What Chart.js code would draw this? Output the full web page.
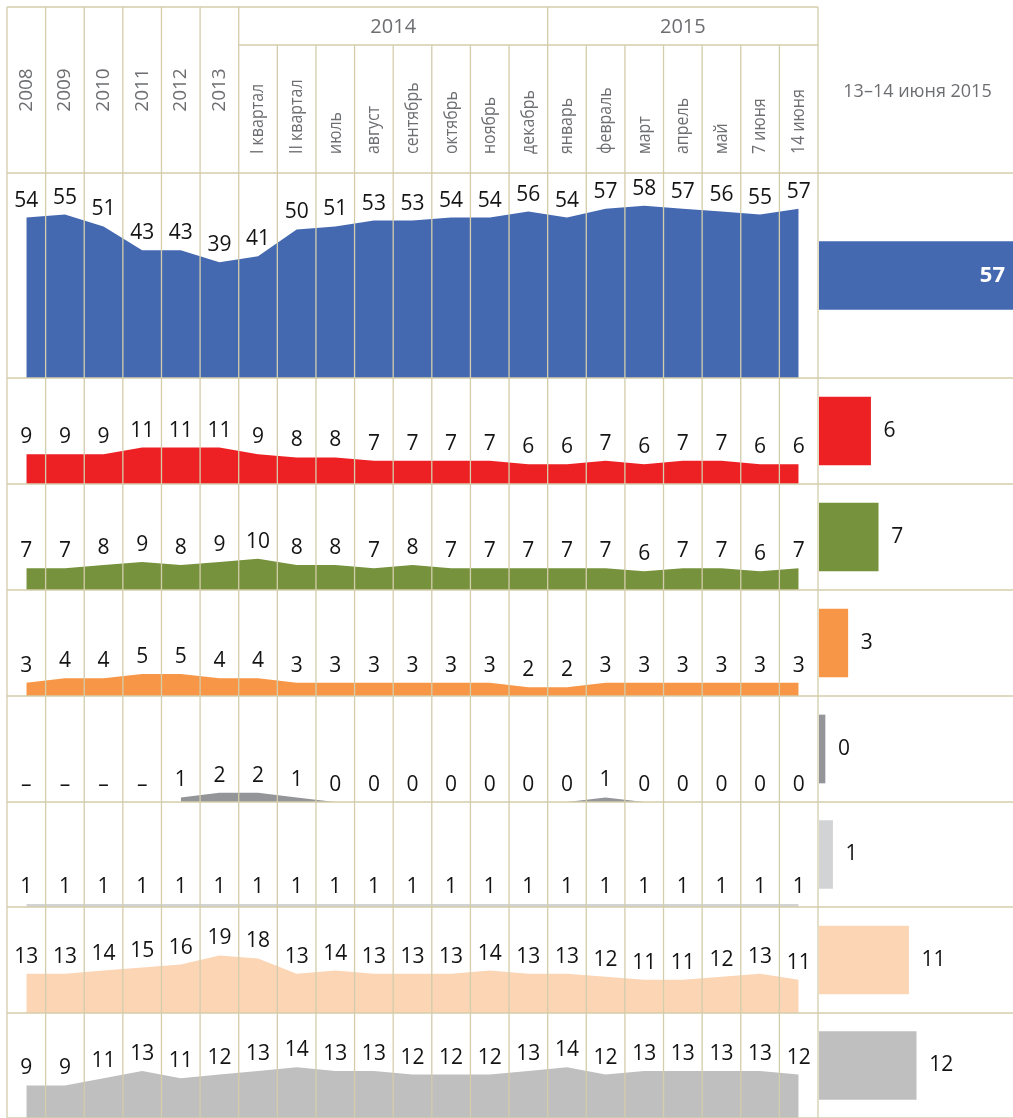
<!DOCTYPE html>
<html>
<head>
<meta charset="utf-8">
<script src="https://cdn.jsdelivr.net/npm/chart.js@4.4.1/dist/chart.umd.min.js"></script>
<style>
  html, body { margin: 0; padding: 0; background: #fff; }
  #wrap { position: relative; width: 1013px; height: 1118px; overflow: hidden; }
  #areaChart { position: absolute; left: 0; top: 0; }
  #barChart { position: absolute; left: 819px; top: 173px; }
</style>
</head>
<body>
<div id="wrap">
  <canvas id="areaChart" width="1013" height="1118"></canvas>
  <canvas id="barChart" width="194" height="945"></canvas>
</div>
<script>
// periods (columns)
var periods = ["2008", "2009", "2010", "2011", "2012", "2013",
  "I квартал", "II квартал", "июль", "август", "сентябрь", "октябрь", "ноябрь", "декабрь",
  "январь", "февраль", "март", "апрель", "май", "7 июня", "14 июня"];
// year groups over the months
var groupLabels = ["2014", "2015"];
var groupStart = [6, 14];
var groupEnd = [13, 20];

// rows, top to bottom
var row1 = [54, 55, 51, 43, 43, 39, 41, 50, 51, 53, 53, 54, 54, 56, 54, 57, 58, 57, 56, 55, 57];
var row2 = [9, 9, 9, 11, 11, 11, 9, 8, 8, 7, 7, 7, 7, 6, 6, 7, 6, 7, 7, 6, 6];
var row3 = [7, 7, 8, 9, 8, 9, 10, 8, 8, 7, 8, 7, 7, 7, 7, 7, 6, 7, 7, 6, 7];
var row4 = [3, 4, 4, 5, 5, 4, 4, 3, 3, 3, 3, 3, 3, 2, 2, 3, 3, 3, 3, 3, 3];
var row5 = [null, null, null, null, 1, 2, 2, 1, 0, 0, 0, 0, 0, 0, 0, 1, 0, 0, 0, 0, 0];
var row6 = [1, 1, 1, 1, 1, 1, 1, 1, 1, 1, 1, 1, 1, 1, 1, 1, 1, 1, 1, 1, 1];
var row7 = [13, 13, 14, 15, 16, 19, 18, 13, 14, 13, 13, 13, 14, 13, 13, 12, 11, 11, 12, 13, 11];
var row8 = [9, 9, 11, 13, 11, 12, 13, 14, 13, 13, 12, 12, 12, 13, 14, 12, 13, 13, 13, 13, 12];

// last poll, right column
var lastPollLabel = "13–14 июня 2015";
var lastPoll = [57, 6, 7, 3, 0, 1, 11, 12];

var rows = [row1, row2, row3, row4, row5, row6, row7, row8];
var rowColors = ["#4569b1", "#ed2024", "#77923d", "#f79646", "#939598", "#d1d3d4", "#fcd5b5", "#bfbfbf"];
var rowWeights = [205, 106, 106, 106, 106, 105, 106, 105];
var rowMax = [69, 32, 34, 24, 23, 35, 35, 29];
var gridColor = "#d3cdab";
var textGray = "#6d6e71";

Chart.defaults.font.family = "'Open Sans', sans-serif";

// stacked hidden y axes, one per row
var areaScales = {
  x: { type: 'category', offset: true, display: false }
};
rows.forEach(function (r, i) {
  areaScales['y' + i] = {
    type: 'linear', min: 0, max: rowMax[i], display: false,
    position: 'right', stack: 'rows', stackWeight: rowWeights[i]
  };
});

var tablePlugin = {
  id: 'tablePlugin',
  afterDatasetsDraw: function (chart) {
    var ctx = chart.ctx, area = chart.chartArea, xs = chart.scales.x;
    var n = periods.length;
    var colW = (area.right - area.left) / n;
    var top = 7, band = 45;
    ctx.save();
    // grid
    ctx.strokeStyle = gridColor;
    ctx.lineWidth = 1.3;
    ctx.beginPath();
    for (var b = 0; b <= n; b++) {
      var px = area.left + b * colW;
      var full = b <= groupStart[0] || groupStart.indexOf(b) >= 0 || b === n;
      ctx.moveTo(px, full ? top : band);
      ctx.lineTo(px, chart.height);
    }
    ctx.moveTo(area.left, top);
    ctx.lineTo(area.right, top);
    ctx.moveTo(area.left + groupStart[0] * colW, band);
    ctx.lineTo(area.right, band);
    rows.forEach(function (r, i) {
      var s = chart.scales['y' + i];
      if (i === 0) {
        ctx.moveTo(area.left, s.top);
        ctx.lineTo(chart.width, s.top);
      }
      ctx.moveTo(area.left, s.bottom);
      ctx.lineTo(chart.width, s.bottom);
    });
    ctx.stroke();

    // header texts
    ctx.fillStyle = textGray;
    ctx.textBaseline = 'middle';
    periods.forEach(function (p, j) {
      var cx = xs.getPixelForValue(j);
      ctx.save();
      if (j < groupStart[0]) {
        ctx.translate(cx, (top + area.top) / 2);
        ctx.rotate(-Math.PI / 2);
        ctx.font = "19px 'Open Sans'";
        ctx.textAlign = 'center';
        ctx.fillText(p, 0, 0);
      } else {
        ctx.translate(cx, area.top - 19);
        ctx.rotate(-Math.PI / 2);
        ctx.scale(0.84, 1);
        ctx.font = "19px 'Open Sans'";
        ctx.textAlign = 'left';
        ctx.fillText(p, 0, 0);
      }
      ctx.restore();
    });
    ctx.font = "20px 'Open Sans'";
    ctx.textAlign = 'center';
    groupLabels.forEach(function (g, k) {
      var gx = area.left + (groupStart[k] + groupEnd[k] + 1) / 2 * colW;
      ctx.fillText(g, gx, (top + band) / 2 + 1);
    });
    ctx.font = "18px 'Open Sans'";
    ctx.fillText(lastPollLabel, area.right + (chart.width - area.right) / 2 + 2, 92);

    // value labels
    ctx.fillStyle = '#141414';
    ctx.font = "21px 'Open Sans'";
    rows.forEach(function (r, i) {
      var ys = chart.scales['y' + i];
      r.forEach(function (v, j) {
        var px = xs.getPixelForValue(j);
        var py = v == null ? ys.getPixelForValue(0) : ys.getPixelForValue(v);
        ctx.fillText(v == null ? '–' : String(v), px, py - 17);
      });
    });
    ctx.restore();
  }
};

new Chart(document.getElementById('areaChart'), {
  type: 'line',
  data: {
    labels: periods,
    datasets: rows.map(function (r, i) {
      return {
        data: r,
        yAxisID: 'y' + i,
        backgroundColor: rowColors[i],
        borderWidth: 0,
        pointRadius: 0,
        tension: 0,
        fill: 'origin'
      };
    })
  },
  options: {
    responsive: false,
    animation: false,
    layout: { padding: { top: 173, left: 7, right: 195, bottom: 0 } },
    plugins: { legend: { display: false }, tooltip: { enabled: false } },
    scales: areaScales
  },
  plugins: [tablePlugin]
});

// right column: last poll bars
var barMin = -0.79;
var barMax = 24.74;
var barScales = {
  x: { type: 'linear', min: barMin, max: barMax, display: false }
};
lastPoll.forEach(function (v, i) {
  barScales['r' + i] = {
    type: 'category', display: false, offset: true,
    position: 'right', stack: 'rows', stackWeight: rowWeights[i]
  };
});

var barLabels = {
  id: 'barLabels',
  afterDatasetsDraw: function (chart) {
    var ctx = chart.ctx, area = chart.chartArea;
    ctx.save();
    ctx.textBaseline = 'middle';
    chart.data.datasets.forEach(function (ds, i) {
      var el = chart.getDatasetMeta(i).data[0];
      var txt = String(ds.data[0]);
      if (el.x > area.right - 40) {
        ctx.fillStyle = '#ffffff';
        ctx.font = "bold 22px 'Open Sans'";
        ctx.textAlign = 'right';
        ctx.fillText(txt, area.right - 8, el.y);
      } else {
        ctx.fillStyle = '#141414';
        ctx.font = "21px 'Open Sans'";
        ctx.textAlign = 'left';
        ctx.fillText(txt, el.x + 13, el.y);
      }
    });
    ctx.restore();
  }
};

new Chart(document.getElementById('barChart'), {
  type: 'bar',
  data: {
    labels: [lastPollLabel],
    datasets: lastPoll.map(function (v, i) {
      return {
        data: [v],
        yAxisID: 'r' + i,
        backgroundColor: rowColors[i],
        base: barMin,
        grouped: false,
        barThickness: 68
      };
    })
  },
  options: {
    indexAxis: 'y',
    responsive: false,
    animation: false,
    layout: { padding: 0 },
    plugins: { legend: { display: false }, tooltip: { enabled: false } },
    scales: barScales
  },
  plugins: [barLabels]
});
</script>
</body>
</html>
